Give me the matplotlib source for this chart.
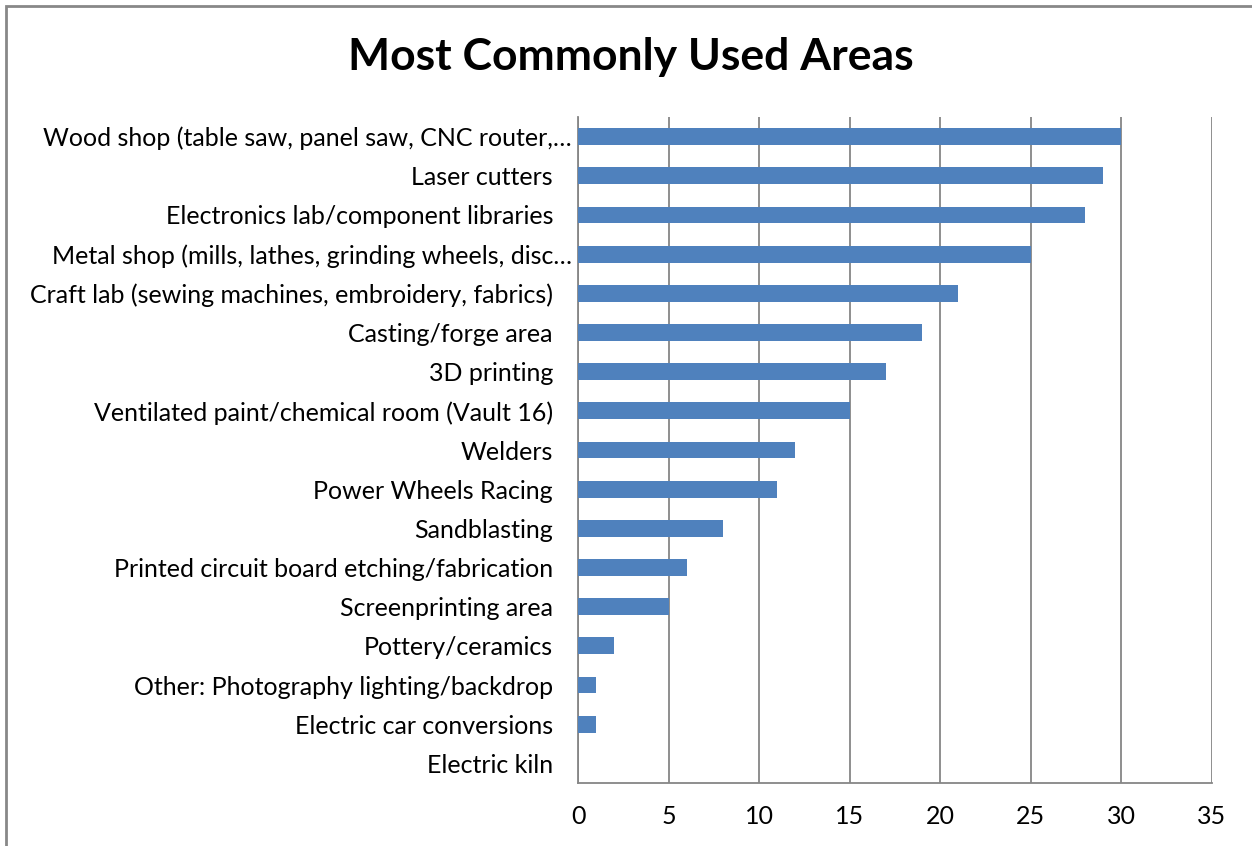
import matplotlib
matplotlib.use("Agg")
import matplotlib.pyplot as plt
from matplotlib.patches import Rectangle
from matplotlib.transforms import ScaledTranslation

categories = [
    "Wood shop (table saw, panel saw, CNC router,…",
    "Laser cutters",
    "Electronics lab/component libraries",
    "Metal shop (mills, lathes, grinding wheels, disc…",
    "Craft lab (sewing machines, embroidery, fabrics)",
    "Casting/forge area",
    "3D printing",
    "Ventilated paint/chemical room (Vault 16)",
    "Welders",
    "Power Wheels Racing",
    "Sandblasting",
    "Printed circuit board etching/fabrication",
    "Screenprinting area",
    "Pottery/ceramics",
    "Other: Photography lighting/backdrop",
    "Electric car conversions",
    "Electric kiln",
]
values = [30, 29, 28, 25, 21, 19, 17, 15, 12, 11, 8, 6, 5, 2, 1, 1, 0]
xticks = [0, 5, 10, 15, 20, 25, 30, 35]
title = "Most Commonly Used Areas"

plt.rcParams['font.family'] = ['Lato', 'DejaVu Sans']

W, H = 1252, 846
fig = plt.figure(figsize=(W/100, H/100), dpi=100)
ax = fig.add_axes([578/W, 1-783/H, (1212-578)/W, (783-117)/H])

ypos = list(range(len(categories)))
ax.barh(ypos, values, height=0.43, color='#4F81BD', linewidth=0, zorder=3)
ax.set_ylim(len(categories)-0.5, -0.5)
ax.set_xlim(0, 35)
ax.set_yticks(ypos)
ax.set_yticklabels(categories, fontsize=18)
ax.set_xticks(xticks)
ax.set_xticklabels([str(t) for t in xticks], fontsize=18)
ax.tick_params(axis='y', length=0, pad=18)
ax.tick_params(axis='x', length=0, pad=16)
ax.grid(axis='x', color='#868686', linewidth=1.3, zorder=0)
for s in ['top', 'right']:
    ax.spines[s].set_visible(False)
for s in ['left', 'bottom']:
    ax.spines[s].set_color('#868686')
    ax.spines[s].set_linewidth(1.3)

# truncated labels extend slightly further right in the reference
for lab in ax.get_yticklabels():
    if lab.get_text().endswith('…'):
        lab.set_transform(lab.get_transform() + ScaledTranslation(19/100, 0, fig.dpi_scale_trans))

fig.text(631/W, 1-57/H, title, ha='center', va='center', fontsize=32, fontweight='bold')

fig.patches.append(Rectangle((6/W, -0.1), 1.2, 1-6/H+0.1, transform=fig.transFigure,
                             fill=False, edgecolor='#888888', linewidth=2))

fig.savefig("out.png", dpi=100)
